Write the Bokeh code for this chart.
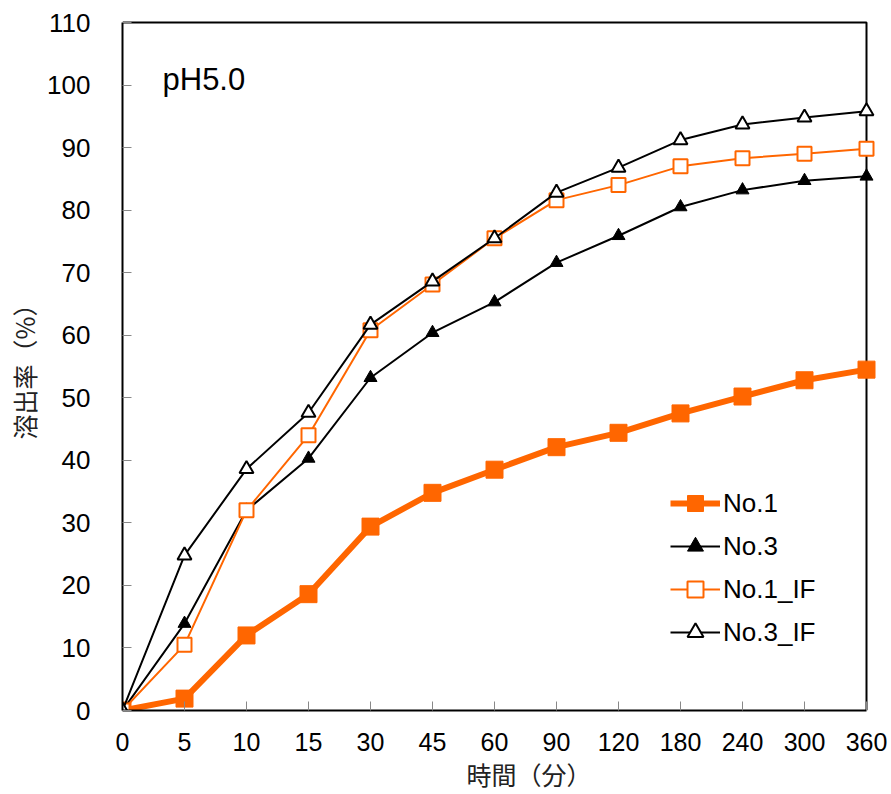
from bokeh.plotting import figure
from bokeh.models import Range1d, FixedTicker, Legend, LegendItem, Label, Title
from bokeh.embed import file_html
from bokeh.resources import INLINE

times = ["0", "5", "10", "15", "30", "45", "60", "90", "120", "180", "240", "300", "360"]
no1 = [0, 1.9, 12.0, 18.6, 29.4, 34.8, 38.5, 42.1, 44.4, 47.5, 50.2, 52.8, 54.5]
no3 = [0, 13.9, 32.0, 40.3, 53.2, 60.4, 65.3, 71.6, 75.9, 80.5, 83.2, 84.7, 85.4]
no1_if = [0, 10.5, 32.0, 44.0, 60.8, 68.1, 75.5, 81.6, 84.0, 87.0, 88.3, 89.0, 89.8]
no3_if = [0, 24.8, 38.6, 47.6, 61.7, 68.6, 75.5, 82.8, 86.8, 91.2, 93.7, 94.8, 95.8]
y_ticks = list(range(0, 111, 10))

xs = list(range(len(times)))
x_max = len(times) - 1
y_max = y_ticks[-1]
ORANGE = "#FF6600"
FONT = "Liberation Sans"
CJK = "Noto Sans CJK JP"

# pixel geometry
STEP_X = 62.0            # px per category step
PX_Y = 688.0 / y_max     # px per percent
PAD_R = 10               # extra room so edge markers are not clipped
PAD_T = 2

p = figure(frame_width=int(STEP_X * x_max + PAD_R), frame_height=int(PX_Y * y_max + PAD_T),
           output_backend="svg", toolbar_location=None,
           x_range=Range1d(0, x_max + PAD_R / STEP_X), y_range=Range1d(0, y_max + PAD_T / PX_Y),
           min_border_left=122, min_border_right=11, min_border_top=20, min_border_bottom=10)
p.xgrid.visible = False
p.ygrid.visible = False
p.outline_line_color = None
p.background_fill_color = "white"
p.border_fill_color = "white"

for ax in (p.xaxis[0], p.yaxis[0]):
    ax.axis_line_color = "black"
    ax.axis_line_width = 2
    ax.major_tick_in = 9
    ax.major_tick_out = 0
    ax.major_tick_line_color = "#888888"
    ax.major_tick_line_width = 1
    ax.minor_tick_line_color = None
    ax.major_label_text_font = FONT
    ax.major_label_text_color = "black"

p.xaxis.ticker = FixedTicker(ticks=xs)
p.xaxis.bounds = (0, x_max)
p.xaxis.major_label_overrides = {i: t for i, t in enumerate(times)}
p.xaxis.major_label_text_font_size = "25px"
p.xaxis.major_label_standoff = 22

p.yaxis.ticker = FixedTicker(ticks=y_ticks)
p.yaxis.bounds = (0, y_max)
p.yaxis.major_label_text_font_size = "26px"
p.yaxis.major_label_standoff = 32
p.yaxis.axis_label = "溶出率（%）"
p.yaxis.axis_label_text_font = CJK
p.yaxis.axis_label_text_font_size = "25px"
p.yaxis.axis_label_text_font_style = "normal"
p.yaxis.axis_label_text_color = "#222222"
p.yaxis.axis_label_standoff = 2

# top and right edges of the chart box
p.line([0, x_max, x_max], [y_max, y_max, 0], line_color="black", line_width=2)

r1l = p.line(xs, no1, line_color=ORANGE, line_width=6)
r1m = p.scatter(xs, no1, marker="square", size=17, fill_color=ORANGE, line_color=ORANGE)
r3l = p.line(xs, no3, line_color="black", line_width=2)
r3m = p.scatter(xs, no3, marker="triangle", size=13, fill_color="black", line_color="black")
r1il = p.line(xs, no1_if, line_color=ORANGE, line_width=2)
r1im = p.scatter(xs, no1_if, marker="square", size=14, fill_color="white", line_color=ORANGE, line_width=2)
r3il = p.line(xs, no3_if, line_color="black", line_width=2)
r3im = p.scatter(xs, no3_if, marker="triangle", size=14, fill_color="white", line_color="black", line_width=2)

legend = Legend(items=[
    LegendItem(label="No.1", renderers=[r1l, r1m]),
    LegendItem(label="No.3", renderers=[r3l, r3m]),
    LegendItem(label="No.1_IF", renderers=[r1il, r1im]),
    LegendItem(label="No.3_IF", renderers=[r3il, r3im]),
], location=(548, 58))
legend.border_line_color = None
legend.background_fill_alpha = 0
legend.padding = 0
legend.margin = 0
legend.spacing = 3
legend.glyph_width = 50
legend.glyph_height = 40
legend.label_standoff = 3
legend.label_text_font = FONT
legend.label_text_font_size = "26px"
legend.label_text_color = "black"
p.add_layout(legend, "center")

p.add_layout(Label(x=40, y=631, x_units="screen", y_units="screen", text="pH5.0",
                   text_font=FONT, text_font_size="31px", text_color="black",
                   text_baseline="alphabetic"))

p.add_layout(Title(text="時間（分）", align="left", offset=344, standoff=0,
                   text_font=CJK, text_font_size="25px", text_font_style="normal",
                   text_color="#222222"), "below")

open("out.html", "w").write(file_html(p, INLINE))
